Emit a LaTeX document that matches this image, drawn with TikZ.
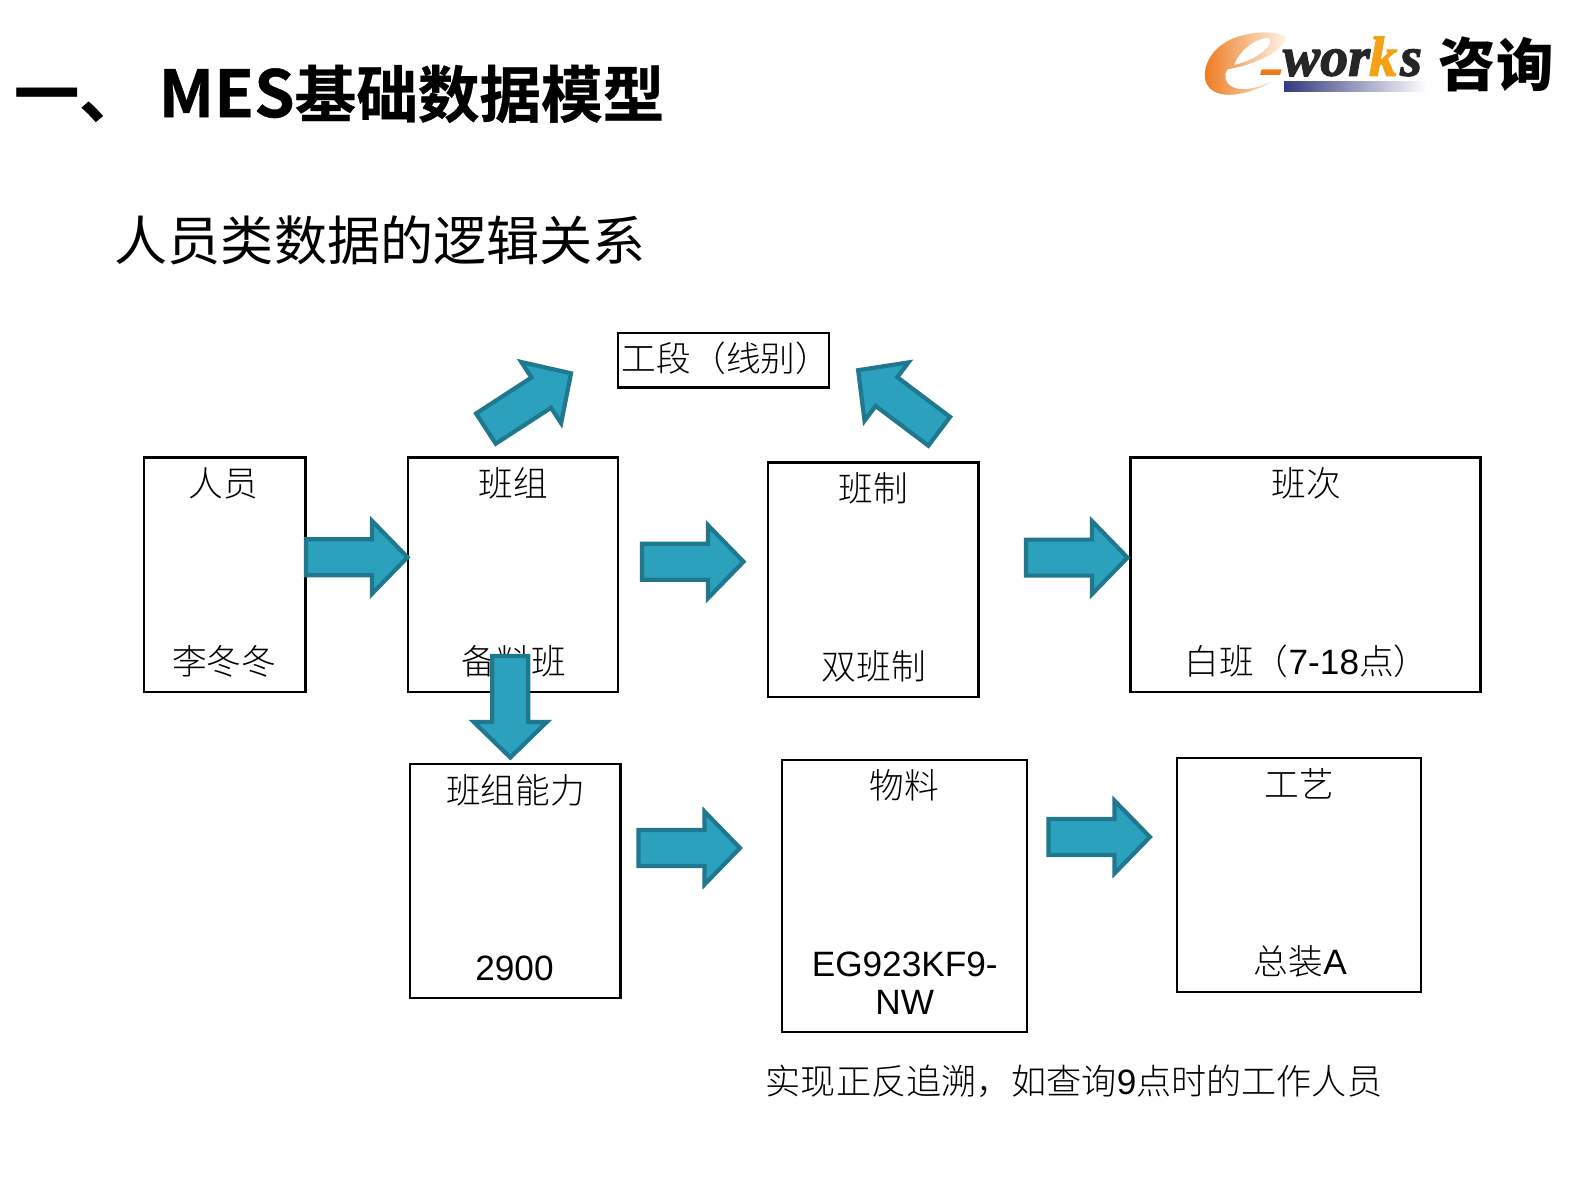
\documentclass[tikz,border=0pt]{standalone}
\usepackage{fontspec}
\setmainfont{Liberation Sans}
\newfontfamily\cjr{Noto Sans CJK SC Light}
\newfontfamily\cjn{Noto Sans CJK SC}
\newfontfamily\cjb{Noto Sans CJK SC Bold}[FakeBold=0.6]
\newfontfamily\cjh{Noto Sans CJK SC Black}
\newfontfamily\lib{Liberation Sans}
\newfontfamily\serbi{Liberation Serif Bold Italic}[FakeBold=2.2]
\definecolor{afill}{HTML}{2CA1BE}
\definecolor{aline}{HTML}{20788F}
\definecolor{lorange}{HTML}{EE7A1E}
\definecolor{kor}{HTML}{F5A015}
\definecolor{lblue}{HTML}{35397F}
\tikzset{
  box/.style={draw=black,line width=2.3pt,fill=white,inner sep=0pt},
  lab/.style={inner sep=0pt,font=\fontsize{34.7}{38}\selectfont\cjr,text=black},
  logotxt/.style={inner sep=0pt,anchor=base west,font=\fontsize{56}{60}\selectfont\serbi},
  pics/blockarrow/.style={code={
    \draw[draw=aline,fill=afill,line width=4.2pt,miter limit=10]
      (0,-18) -- (66,-18) -- (66,-36.5) -- (101.5,0) -- (66,36.5) -- (66,18) -- (0,18) -- cycle;
  }}
}
\newcommand{\lt}[1]{{\fontsize{35.2}{38}\selectfont\lib #1}}
\begin{document}
\begin{tikzpicture}[x=1pt,y=-1pt]
\useasboundingbox (0,0) rectangle (1587,1190);
\fill[white] (0,0) rectangle (1587,1190);

% title
\node[inner sep=0pt,anchor=base west,font=\cjb] (ttl) at (158.5,117.2) {{\fontsize{65}{66}\selectfont MES}{\fontsize{61.6}{66}\selectfont 基础数据模型}};
\node[inner sep=0pt,anchor=base west,font=\fontsize{65}{66}\selectfont\cjb] (ttlnum) at (14,117.5) {一、};
\node[inner sep=0pt,anchor=west,font=\fontsize{53.1}{56}\selectfont\cjn] (sub) at (114.5,240) {人员类数据的逻辑关系};

% boxes
\node[box,minimum width=161.9pt,minimum height=234.6pt] (ry) at (224.65,574.7) {};
\node[box,minimum width=210.5pt,minimum height=234.8pt] (bz) at (513.05,574.8) {};
\node[box,minimum width=210.6pt,minimum height=234.8pt] (bzh) at (873.3,579.9) {};
\node[box,minimum width=350.2pt,minimum height=234.8pt] (bc) at (1305.5,574.8) {};
\node[box,minimum width=210.5pt,minimum height=54.6pt] (gd) at (723.55,360.3) {};
\node[box,minimum width=210.5pt,minimum height=233.8pt] (nl) at (515.15,880.9) {};
\node[box,minimum width=244.7pt,minimum height=272pt] (wl) at (904.65,896) {};
\node[box,minimum width=244pt,minimum height=233.8pt] (gy) at (1299,874.9) {};

% labels
\node[lab] (t1) at (223.6,483.7) {人员};
\node[lab] (t2) at (224.2,661.8) {李冬冬};
\node[lab] (t3) at (513.5,483.7) {班组};
\node[lab] (t4) at (514,661.3) {备料班};
\node[lab] (t5) at (873,488.8) {班制};
\node[lab] (t6) at (874,666) {双班制};
\node[lab] (t7) at (1306.5,483.7) {班次};
\node[lab] (t8) at (1306.5,661.8) {白班（\lt{7-18}点）};
\node[lab] (t9) at (726,358) {工段（线别）};
\node[lab] (t10) at (515.6,790.4) {班组能力};
\node[lab] (t11) at (514.5,968) {\lt{2900}};
\node[lab] (t12) at (904.4,785.3) {物料};
\node[lab] (t13) at (904.7,964.4) {\lt{EG923KF9-}};
\node[lab] (t14) at (904.7,1001.9) {\lt{NW}};
\node[lab] (t15) at (1299,784.3) {工艺};
\node[lab] (t16) at (1300.4,961.4) {总装\lt{A}};
\node[lab,font=\fontsize{35.1}{38}\selectfont\cjr] (t17) at (1074,1080.8) {实现正反追溯，如查询\lt{9}点时的工作人员};

% block arrows
\pic at (306,557.3) {blockarrow};
\pic at (642,561.7) {blockarrow};
\pic at (1026,557.6) {blockarrow};
\pic at (638.5,848) {blockarrow};
\pic at (1048.4,837) {blockarrow};
\pic[rotate=-90] at (510.3,656) {blockarrow};
\pic[rotate=33] at (485.9,428.6) {blockarrow};
\pic[rotate=143] at (939.2,431.3) {blockarrow};

% logo
\begin{scope}[shift={(1170,10)},x=0.33333pt,y=-0.33333pt]
  \path[left color=lorange,right color=orange!8,even odd rule]
    (350,82) .. controls (320,62) and (250,62) .. (190,85)
    .. controls (130,110) and (100,160) .. (105,205)
    .. controls (112,250) and (160,262) .. (215,250)
    .. controls (250,243) and (285,228) .. (310,212)
    .. controls (270,232) and (220,246) .. (190,232)
    .. controls (165,222) and (160,195) .. (172,178)
    .. controls (230,170) and (340,130) .. (350,82) -- cycle
    (192,165) .. controls (205,125) and (255,85) .. (292,84)
    .. controls (310,86) and (300,112) .. (270,132)
    .. controls (245,150) and (215,160) .. (192,165) -- cycle;
  \fill[lorange] (275,178) -- (335,178) -- (330,195) -- (270,195) -- cycle;
  \shade[left color=lblue,right color=white] (342,215) rectangle (770,245);
  \node[logotxt,text=black!85] (lw) at (338,197) {wor};
  \node[logotxt,text=kor] (lk) at (597,197) {k};
  \node[logotxt,text=black!85] (ls) at (690,197) {s};
  \node[inner sep=0pt,font=\fontsize{57.5}{60}\selectfont\cjh] (lz) at (979,163) {咨询};
\end{scope}
\end{tikzpicture}
\end{document}
